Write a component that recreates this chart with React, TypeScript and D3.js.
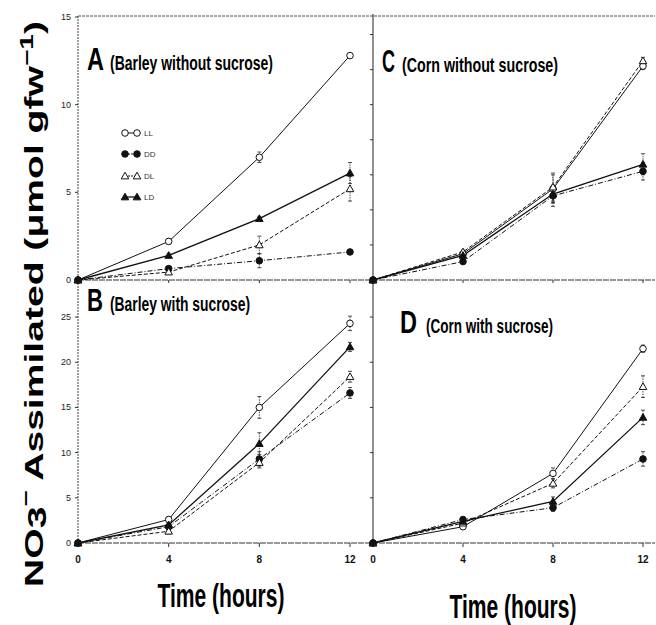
import React from "react";
import { scaleLinear, line } from "d3";

// time points (hours)
const hours = [0, 4, 8, 12];
const seriesNames = ["LL", "DD", "DL", "LD"];

// A: barley without sucrose
const barleyNoSucLL = [0, 2.2, 7.0, 12.8];
const barleyNoSucDD = [0, 0.65, 1.1, 1.6];
const barleyNoSucDL = [0, 0.45, 2.0, 5.2];
const barleyNoSucLD = [0, 1.4, 3.5, 6.1];
const barleyNoSucErr = [
  [0, 0.15, 0.3, 0.1],
  [0, 0.1, 0.4, 0.1],
  [0, 0.1, 0.5, 0.7],
  [0, 0.1, 0.1, 0.6],
];

// B: barley with sucrose
const barleySucLL = [0, 2.6, 15.0, 24.3];
const barleySucDD = [0, 1.8, 9.3, 16.6];
const barleySucDL = [0, 1.3, 8.9, 18.4];
const barleySucLD = [0, 2.0, 11.0, 21.7];
const barleySucErr = [
  [0, 0.3, 1.2, 0.8],
  [0, 0.3, 0.8, 0.6],
  [0, 0.3, 0.6, 0.6],
  [0, 0.3, 1.2, 0.5],
];

// C: corn without sucrose
const cornNoSucLL = [0, 1.5, 5.2, 12.2];
const cornNoSucDD = [0, 1.05, 4.8, 6.2];
const cornNoSucDL = [0, 1.6, 5.3, 12.5];
const cornNoSucLD = [0, 1.4, 4.9, 6.6];
const cornNoSucErr = [
  [0, 0.1, 0.8, 0.2],
  [0, 0.1, 0.6, 0.5],
  [0, 0.1, 0.8, 0.2],
  [0, 0.1, 0.5, 0.6],
];

// D: corn with sucrose
const cornSucLL = [0, 1.8, 7.7, 21.5];
const cornSucDD = [0, 2.6, 3.9, 9.3];
const cornSucDL = [0, 2.2, 6.6, 17.3];
const cornSucLD = [0, 2.4, 4.6, 13.9];
const cornSucErr = [
  [0, 0.2, 0.6, 0.4],
  [0, 0.2, 0.4, 0.8],
  [0, 0.2, 0.5, 1.2],
  [0, 0.2, 0.5, 0.8],
];

const yTicksNoSuc = [0, 5, 10, 15];
const yTicksSuc = [0, 5, 10, 15, 20, 25];
const xTickLabels = ["0", "4", "8", "12"];

const narrow = "'Liberation Sans Narrow', 'Arial Narrow', 'Liberation Sans', sans-serif";

const styles = {
  LL: { dash: null, width: 1 },
  DD: { dash: "5,2,1,2", width: 1 },
  DL: { dash: "4,2", width: 1 },
  LD: { dash: null, width: 1.3 },
};

function Marker({ name, cx, cy }) {
  const filled = name === "DD" || name === "LD";
  const fill = filled ? "#111" : "#fff";
  if (name === "LL" || name === "DD") {
    return <circle cx={cx} cy={cy} r={3.3} fill={fill} stroke="#111" strokeWidth={1} />;
  }
  const s = 3.8;
  const pts = `${cx},${cy - s} ${cx - s},${cy + s * 0.75} ${cx + s},${cy + s * 0.75}`;
  return <polygon points={pts} fill={fill} stroke="#111" strokeWidth={1} />;
}

function Panel({ x, y, series, errs, letter, letterLen, title, titleLen, tx, ty, subX }) {
  const path = line()
    .x((d) => x(d[0]))
    .y((d) => y(d[1]));
  return (
    <g>
      {series.map((vals, si) => {
        const name = seriesNames[si];
        const st = styles[name];
        return (
          <path
            key={"l" + name}
            d={path(hours.map((h, i) => [h, vals[i]]))}
            fill="none"
            stroke="#111"
            strokeWidth={st.width}
            strokeDasharray={st.dash || undefined}
          />
        );
      })}
      {series.map((vals, si) =>
        hours.map((h, i) => {
          const e = errs[si][i];
          if (!e) return null;
          const px = x(h);
          return (
            <g key={"e" + si + i} stroke="#222" strokeWidth={0.8}>
              <line x1={px} x2={px} y1={y(vals[i] - e)} y2={y(vals[i] + e)} strokeDasharray="1.5,1" />
              <line x1={px - 2} x2={px + 2} y1={y(vals[i] + e)} y2={y(vals[i] + e)} />
              <line x1={px - 2} x2={px + 2} y1={y(vals[i] - e)} y2={y(vals[i] - e)} />
            </g>
          );
        })
      )}
      {series.map((vals, si) =>
        hours.map((h, i) => (
          <Marker key={"m" + si + i} name={seriesNames[si]} cx={x(h)} cy={y(vals[i])} />
        ))
      )}
      <text
        x={tx}
        y={ty}
        fontFamily={narrow}
        fontWeight="bold"
        fontSize={32}
        fill="#000"
        textLength={letterLen}
        lengthAdjust="spacingAndGlyphs"
      >
        {letter}
      </text>
      <text
        x={subX}
        y={ty}
        fontFamily={narrow}
        fontWeight="bold"
        fontSize={20}
        fill="#000"
        textLength={titleLen}
        lengthAdjust="spacingAndGlyphs"
      >
        {title}
      </text>
    </g>
  );
}

export default function App() {
  const xLeft = scaleLinear().domain([0, 12]).range([78, 350]);
  const xRight = scaleLinear().domain([0, 12]).range([373, 643]);
  const yTop = scaleLinear().domain([0, 15]).range([280, 17]);
  const yBottom = scaleLinear().domain([0, 29.1]).range([543, 280]);

  const axisColor = "#333";

  return (
    <svg
      width={656}
      height={625}
      style={{ position: "absolute", left: 0, top: 0, background: "#fff" }}
    >
      {/* frame lines */}
      <line x1={78} x2={655} y1={16} y2={16} stroke="#555" strokeDasharray="3,1" />
      <line x1={78} x2={655} y1={280} y2={280} stroke={axisColor} strokeWidth={1.1} strokeDasharray="6,1" />
      <line x1={78} x2={655} y1={543} y2={543} stroke={axisColor} strokeWidth={1.1} strokeDasharray="6,1" />
      <line x1={78} x2={78} y1={16} y2={543} stroke="#444" strokeDasharray="2,1" />
      <line x1={373} x2={373} y1={14} y2={543} stroke="#222" />

      {/* y ticks left */}
      {yTicksNoSuc.map((t) => (
        <g key={"ya" + t}>
          <line x1={75} x2={78} y1={yTop(t)} y2={yTop(t)} stroke="#333" />
          <text x={71} y={yTop(t) + 3} fontSize={9} fontFamily={narrow} textAnchor="end" fill="#222">
            {t}
          </text>
        </g>
      ))}
      {yTicksSuc.map((t) => (
        <g key={"yb" + t}>
          <line x1={75} x2={78} y1={yBottom(t)} y2={yBottom(t)} stroke="#333" />
          <text x={71} y={yBottom(t) + 3} fontSize={9} fontFamily={narrow} textAnchor="end" fill="#222">
            {t}
          </text>
        </g>
      ))}
      {/* y ticks right (no labels) */}
      {yTop.ticks(6).map((t) => (
        <line key={"yc" + t} x1={370} x2={373} y1={yTop(t)} y2={yTop(t)} stroke="#333" />
      ))}
      {yTicksSuc.map((t) => (
        <line key={"yd" + t} x1={370} x2={373} y1={yBottom(t)} y2={yBottom(t)} stroke="#333" />
      ))}

      {/* x ticks */}
      {[xLeft, xRight].map((xs, k) =>
        hours.slice(1).map((h) => (
          <g key={"xt" + k + h} stroke="#333">
            <line x1={xs(h)} x2={xs(h)} y1={280} y2={283} />
            <line x1={xs(h)} x2={xs(h)} y1={543} y2={547} />
          </g>
        ))
      )}
      {[xLeft, xRight].map((xs, k) =>
        hours.map((h, i) => (
          <text
            key={"xl" + k + h}
            x={xs(h)}
            y={563}
            fontSize={10}
            fontFamily={narrow}
            fontWeight="bold"
            textAnchor="middle"
            fill="#111"
          >
            {xTickLabels[i]}
          </text>
        ))
      )}

      <Panel
        x={xLeft}
        y={yTop}
        series={[barleyNoSucLL, barleyNoSucDD, barleyNoSucDL, barleyNoSucLD]}
        errs={barleyNoSucErr}
        letter="A"
        letterLen={17}
        title="(Barley without sucrose)"
        titleLen={163}
        tx={87}
        ty={70}
        subX={110}
      />
      <Panel
        x={xLeft}
        y={yBottom}
        series={[barleySucLL, barleySucDD, barleySucDL, barleySucLD]}
        errs={barleySucErr}
        letter="B"
        letterLen={16}
        title="(Barley with sucrose)"
        titleLen={140}
        tx={87}
        ty={311}
        subX={110}
      />
      <Panel
        x={xRight}
        y={yTop}
        series={[cornNoSucLL, cornNoSucDD, cornNoSucDL, cornNoSucLD]}
        errs={cornNoSucErr}
        letter="C"
        letterLen={13}
        title="(Corn without sucrose)"
        titleLen={156}
        tx={382}
        ty={72}
        subX={402}
      />
      <Panel
        x={xRight}
        y={yBottom}
        series={[cornSucLL, cornSucDD, cornSucDL, cornSucLD]}
        errs={cornSucErr}
        letter="D"
        letterLen={17}
        title="(Corn with sucrose)"
        titleLen={127}
        tx={400}
        ty={333}
        subX={426}
      />

      {/* legend in panel A */}
      {seriesNames.map((name, i) => {
        const ly = [133, 154, 176, 197][i];
        const st = styles[name];
        return (
          <g key={"lg" + name}>
            <line
              x1={125}
              x2={137}
              y1={ly}
              y2={ly}
              stroke="#111"
              strokeWidth={st.width}
              strokeDasharray={st.dash ? "2,1" : undefined}
            />
            <Marker name={name} cx={125} cy={ly} />
            <Marker name={name} cx={137} cy={ly} />
            <text x={144} y={ly + 3} fontSize={8} fontFamily={narrow} fill="#333">
              {name}
            </text>
          </g>
        );
      })}

      {/* axis titles */}
      <text
        x={221}
        y={607}
        textAnchor="middle"
        fontFamily={narrow}
        fontWeight="bold"
        fontSize={34}
        textLength={127}
        lengthAdjust="spacingAndGlyphs"
        fill="#000"
      >
        Time (hours)
      </text>
      <text
        x={513}
        y={618}
        textAnchor="middle"
        fontFamily={narrow}
        fontWeight="bold"
        fontSize={34}
        textLength={127}
        lengthAdjust="spacingAndGlyphs"
        fill="#000"
      >
        Time (hours)
      </text>
      <text
        transform="translate(43,304) rotate(-90)"
        textAnchor="middle"
        fontFamily="'Liberation Sans', Arial, sans-serif"
        fontWeight="900"
        fontSize={25}
        textLength={566}
        lengthAdjust="spacingAndGlyphs"
        fill="#000"
      >
        NO
        <tspan dy={3}>3</tspan>
        <tspan dy={-14} fontSize={18}>−</tspan>
        <tspan dy={11}>{"  Assimilated (\u03bcmol gfw"}</tspan>
        <tspan dy={-10} fontSize={18}>−1</tspan>
        <tspan dy={10}>)</tspan>
      </text>
    </svg>
  );
}
